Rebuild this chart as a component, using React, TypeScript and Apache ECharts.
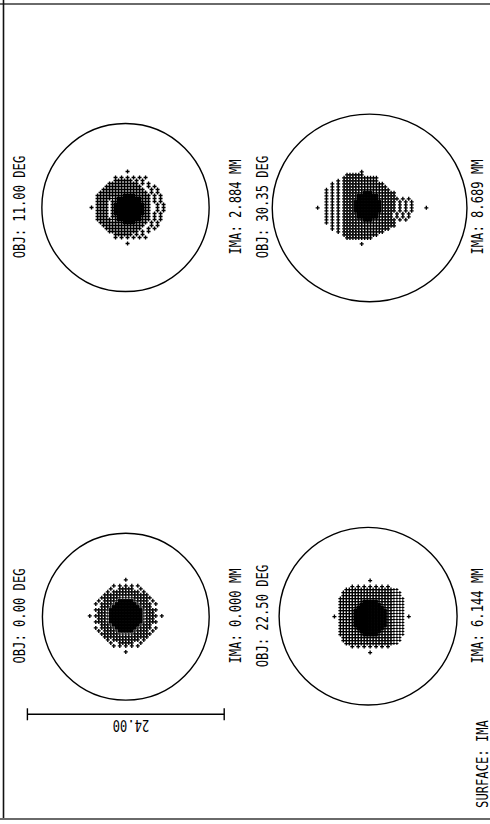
import React, { useEffect, useRef } from "react";
import * as echarts from "echarts";

// ---------- data ----------
const OBJ_LABELS = ["OBJ: 0.00 DEG", "OBJ: 11.00 DEG", "OBJ: 22.50 DEG", "OBJ: 30.35 DEG"];
const IMA_LABELS = ["IMA: 0.000 MM", "IMA: 2.884 MM", "IMA: 6.144 MM", "IMA: 8.689 MM"];
const SURFACE_LABEL = "SURFACE: IMA";
const SCALE_BAR_UM = [-12, 12];
const SCALE_LABEL = "24.00";

// Airy circle radii, micrometres
const AIRY_RX = [10.17, 10.2, 10.95, 12.13];
const AIRY_RY = [10.17, 10.25, 10.83, 11.44];

// spot centre offset from the Airy circle centre, micrometres
const SPOT_DX = [0, 0.25, 0.25, -0.25];
const SPOT_DY = [-0.1, 0, 0.05, -0.37];

// ray-grid pitch of the spot maps, micrometres
const CELL_UM = 0.366;

// spot maps: '+' ray, '#' saturated core, ':' faint ray
const SPOT_0: string[] = [
  "............+............",
  ".........................",
  "........+.+.+.+.+........",
  ".......+..+++++..+.......",
  "......+.+++++++++.+......",
  ".....+++++++++++++++.....",
  "....++++++:::::++++++....",
  "...+.++++:#####:++++.+...",
  "..+.++++:#######:++++.+..",
  "....+++:#########:+++....",
  "..++++:###########:++++..",
  "...+++:###########:+++...",
  "+.++++:###########:++++.+",
  "...+++:###########:+++...",
  "..++++:###########:++++..",
  "....+++:#########:+++....",
  "..+.++++:#######:++++.+..",
  "...+.++++:#####:++++.+...",
  "....++++++:::::++++++....",
  ".....+++++++++++++++.....",
  "......+.+++++++++.+......",
  ".......+..+++++..+.......",
  "........+.+.+.+.+........",
  ".........................",
  "............+............",
];
const SPOT_0_CENTER = [12, 12];

const SPOT_1: string[] = [
  ".............+.............",
  "...........................",
  ".........+.+.+.+.+.+.......",
  ".........++++++.+.+........",
  ".......++++++++++.+.+......",
  "......++++++++++++..+.+....",
  ".....++++++++++++++..+.+...",
  "....++++++++++++++++.+.+...",
  "...+++++++++####+++++.+.+..",
  "...+++++:+########+++.+.+..",
  "...++++.++########+++.+.+..",
  "...++++.+##########++..+.+.",
  ".+.++++.+##########++..+.+.",
  "...++++.+##########++..+.+.",
  "...++++.+##########++.+.+..",
  "...++++.++########+++.+.+..",
  "...+++++:+########+++.+.+..",
  "....++++++++####++++.+.+...",
  ".....++++++++++++++..+.+...",
  "......++++++++++++..+.+....",
  ".......++++++++++.+.+......",
  ".........++++++.+.+........",
  ".........+.+.+.+.+.+.......",
  "...........................",
  ".............+.............",
];
const SPOT_1_CENTER = [13, 12];

const SPOT_2: string[] = [
  ".............+.............",
  "...........................",
  ".......+.+.+.+.+.+.+.......",
  ".....++++++++++++++++::....",
  "....+++++++++++++++++:::...",
  "....+++++++++++++++++:::...",
  "...++++++++++++++++++::::..",
  "...++++++++#####+++++::::..",
  "...+++++++#######++++::::..",
  "...++++++#########+++::::..",
  "...+++++###########++::::..",
  "...+++++###########++::::..",
  ".+.+++++###########++::::.+",
  "...+++++###########++::::..",
  "...+++++###########++::::..",
  "...+++++###########++::::..",
  "...++++++#########+++::::..",
  "...+++++++#######++++::::..",
  "...++++++++#####+++++::::..",
  "....+++++++++++++++++:::...",
  "....+++++++++++++++++:::...",
  ".....++++++++++++++++::....",
  ".......+.+.+.+.+.+.+.......",
  "...........................",
  ".............+.............",
];
const SPOT_2_CENTER = [13, 12];

const SPOT_3: string[] = [
  "................+......................",
  "...........++++++......................",
  "..........++++++++++++.................",
  "........+.++++++++++++.................",
  "......+.+.++++++++++++++...............",
  "......+.+.+++++++++++++++..............",
  "....+.+.+.++++++++++++++++.............",
  "....+.+.+.+++++++###++++++++...........",
  "....+.+.+.+++++#######++++++...........",
  "....+.+.+.+++++#######+++++++.+.+......",
  "....+.+.+.++++#########+++++.+.+.+.....",
  "....+.+.+.++++#########+++++.+.+.+.....",
  ".+..+.+.+.++++#########+++++.+.+.+....+",
  "....+.+.+.++++#########+++++.+.+.+.....",
  "....+.+.+.+++++#######+++++.+.+.+......",
  "....+.+.+.+++++#######+++++.+.+.+......",
  "....+.+.+.+++++++###++++++++.+.+.......",
  "....+.+.+.++++++++++++++++++...........",
  "......+.+.++++++++++++++++++...........",
  "......+.+.++++++++++++++++.............",
  "........+.++++++++++++++...............",
  "..........++++++++++++.................",
  "...........+++++++++...................",
  ".......................................",
  "................+......................",
];
const SPOT_3_CENTER = [18, 11];

const SPOTS = [SPOT_0, SPOT_1, SPOT_2, SPOT_3];
const SPOT_CENTERS = [SPOT_0_CENTER, SPOT_1_CENTER, SPOT_2_CENTER, SPOT_3_CENTER];

// ---------- layout ----------
const PANEL_CENTERS = [
  [125.8, 616.7],
  [125.5, 207.5],
  [369.2, 616.2],
  [372.2, 207.9],
];
const HALF = 123; // px
const RANGE = 15; // µm shown from centre to grid edge
const SCALE_BAR_Y = 11.9; // µm below the first panel centre
const OBJ_POS = [
  [19, 616],
  [19, 207],
  [262, 616],
  [262, 207],
];
const IMA_POS = [
  [235, 616],
  [235, 207],
  [477, 616],
  [477, 207],
];

const PLUS_PATH = "path://M1,0H2V1H3V2H2V3H1V2H0V1H1Z";
const FONT = '16px "DejaVu Sans Mono", "Liberation Mono", monospace';

function spotPoints(i: number, ch: string): number[][] {
  const map = SPOTS[i];
  const [c0, r0] = SPOT_CENTERS[i];
  const pts: number[][] = [];
  map.forEach((row, r) => {
    for (let c = 0; c < row.length; c++) {
      if (row[c] === ch) {
        pts.push([
          +(SPOT_DX[i] + (c - c0) * CELL_UM).toFixed(3),
          +(SPOT_DY[i] + (r - r0) * CELL_UM).toFixed(3),
        ]);
      }
    }
  });
  return pts;
}

function rotText(text: string, x: number, y: number, rotation: number) {
  return {
    type: "text",
    x,
    y,
    rotation,
    scaleX: 0.76,
    scaleY: 1,
    silent: true,
    style: {
      text,
      font: FONT,
      fill: "#000",
      textAlign: "center",
      textVerticalAlign: "middle",
      align: "center",
      verticalAlign: "middle",
    },
  };
}

export default function App() {
  const ref = useRef<HTMLDivElement>(null);
  useEffect(() => {
    if (!ref.current) return;
    const chart = echarts.init(ref.current, undefined, { renderer: "svg" });

    const grids: any[] = [];
    const xAxes: any[] = [];
    const yAxes: any[] = [];
    const series: any[] = [];

    PANEL_CENTERS.forEach(([cx, cy], i) => {
      grids.push({ left: cx - HALF, top: cy - HALF, width: HALF * 2, height: HALF * 2 });
      xAxes.push({ type: "value", gridIndex: i, min: -RANGE, max: RANGE, show: false });
      yAxes.push({ type: "value", gridIndex: i, min: -RANGE, max: RANGE, inverse: true, show: false });

      series.push({
        type: "custom",
        xAxisIndex: i,
        yAxisIndex: i,
        silent: true,
        clip: false,
        data: [[0, 0, AIRY_RX[i], AIRY_RY[i]]],
        renderItem: (_p: any, api: any) => {
          const c = api.coord([api.value(0), api.value(1)]);
          const s = api.size([api.value(2), api.value(3)]);
          return {
            type: "ellipse",
            shape: { cx: c[0], cy: c[1], rx: s[0], ry: s[1] },
            style: { fill: "none", stroke: "#000", lineWidth: 1.4 },
          };
        },
      });
      series.push({
        type: "scatter",
        xAxisIndex: i,
        yAxisIndex: i,
        silent: true,
        symbol: "rect",
        symbolSize: 3.6,
        itemStyle: { color: "#000", opacity: 1 },
        data: spotPoints(i, "#"),
      });
      series.push({
        type: "scatter",
        xAxisIndex: i,
        yAxisIndex: i,
        silent: true,
        symbol: PLUS_PATH,
        symbolSize: 4,
        itemStyle: { color: "#000", opacity: 1 },
        data: spotPoints(i, "+"),
      });
      series.push({
        type: "scatter",
        xAxisIndex: i,
        yAxisIndex: i,
        silent: true,
        symbol: PLUS_PATH,
        symbolSize: 3,
        itemStyle: { color: "#000", opacity: 1 },
        data: spotPoints(i, ":"),
      });
    });

    // scale bar in the first panel
    series.push({
      type: "line",
      xAxisIndex: 0,
      yAxisIndex: 0,
      silent: true,
      symbol: "rect",
      symbolSize: [1.4, 12],
      itemStyle: { color: "#000", opacity: 1 },
      lineStyle: { color: "#000", width: 1.4 },
      data: SCALE_BAR_UM.map((x) => [x, SCALE_BAR_Y]),
    });

    const graphics: any[] = [
      { type: "line", silent: true, shape: { x1: 0, y1: 4, x2: 490, y2: 4 }, style: { stroke: "#6a6a6a", lineWidth: 2 } },
      { type: "line", silent: true, shape: { x1: 3.5, y1: 0, x2: 3.5, y2: 819 }, style: { stroke: "#111", lineWidth: 1.6 } },
      { type: "line", silent: true, shape: { x1: 0, y1: 819, x2: 490, y2: 819 }, style: { stroke: "#6a6a6a", lineWidth: 2 } },
    ];
    OBJ_LABELS.forEach((t, i) => graphics.push(rotText(t, OBJ_POS[i][0], OBJ_POS[i][1], Math.PI / 2)));
    IMA_LABELS.forEach((t, i) => graphics.push(rotText(t, IMA_POS[i][0], IMA_POS[i][1], Math.PI / 2)));
    graphics.push(rotText(SURFACE_LABEL, 482, 764, Math.PI / 2));
    graphics.push(rotText(SCALE_LABEL, 131, 726, Math.PI));

    chart.setOption({
      animation: false,
      backgroundColor: "#fff",
      grid: grids,
      xAxis: xAxes,
      yAxis: yAxes,
      series,
      graphic: graphics,
    });
    return () => chart.dispose();
  }, []);

  return (
    <div
      ref={ref}
      style={{ position: "fixed", left: 0, top: 0, width: 490, height: 824, background: "#fff" }}
    />
  );
}
